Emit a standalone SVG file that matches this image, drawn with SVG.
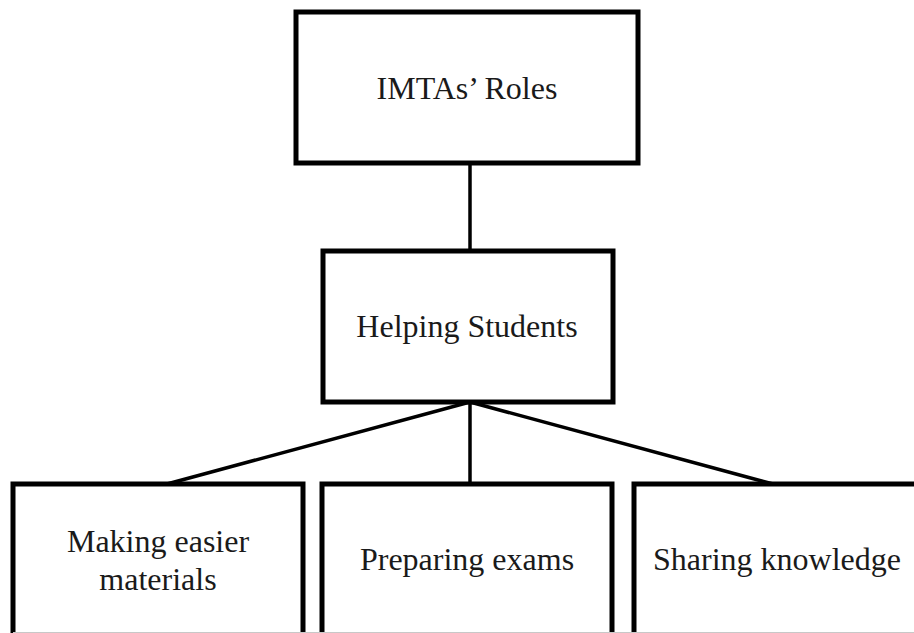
<svg xmlns="http://www.w3.org/2000/svg" width="914" height="633" viewBox="0 0 914 633">
  <style>
    .box { fill: #ffffff; stroke: #000000; stroke-width: 5; stroke-linejoin: miter; }
    .link { stroke: #000000; stroke-width: 3.5; fill: none; }
    .label { font-family: "Liberation Serif", "Times New Roman", serif; font-size: 32px; fill: #1a1a1a; text-anchor: middle; }
  </style>
  <rect x="0" y="0" width="914" height="633" fill="#ffffff"/>

  <!-- connectors -->
  <g id="connectors">
    <line class="link" x1="470" y1="163" x2="470" y2="251"/>
    <line class="link" x1="470" y1="402" x2="167" y2="484"/>
    <line class="link" x1="470" y1="402" x2="470" y2="484"/>
    <line class="link" x1="470" y1="402" x2="773" y2="484"/>
  </g>

  <g id="node-roles">
    <rect class="box" x="296" y="12" width="342" height="151"/>
    <text class="label" x="467" y="99">IMTAs’ Roles</text>
  </g>

  <g id="node-helping">
    <rect class="box" x="323" y="251" width="290" height="151"/>
    <text class="label" x="467" y="337">Helping Students</text>
  </g>

  <g id="node-materials">
    <rect class="box" x="13" y="484" width="290" height="160"/>
    <text class="label" x="158" y="552">Making easier</text>
    <text class="label" x="158" y="590">materials</text>
  </g>

  <g id="node-exams">
    <rect class="box" x="322" y="484" width="290" height="160"/>
    <text class="label" x="467" y="570">Preparing exams</text>
  </g>

  <g id="node-knowledge">
    <rect class="box" x="634" y="484" width="290" height="160"/>
    <text class="label" x="777" y="570">Sharing knowledge</text>
  </g>

  <!-- thin rule along the lower edge -->
  <line x1="13" y1="632.5" x2="914" y2="632.5" stroke="#c8c8c8" stroke-width="1"/>
</svg>
